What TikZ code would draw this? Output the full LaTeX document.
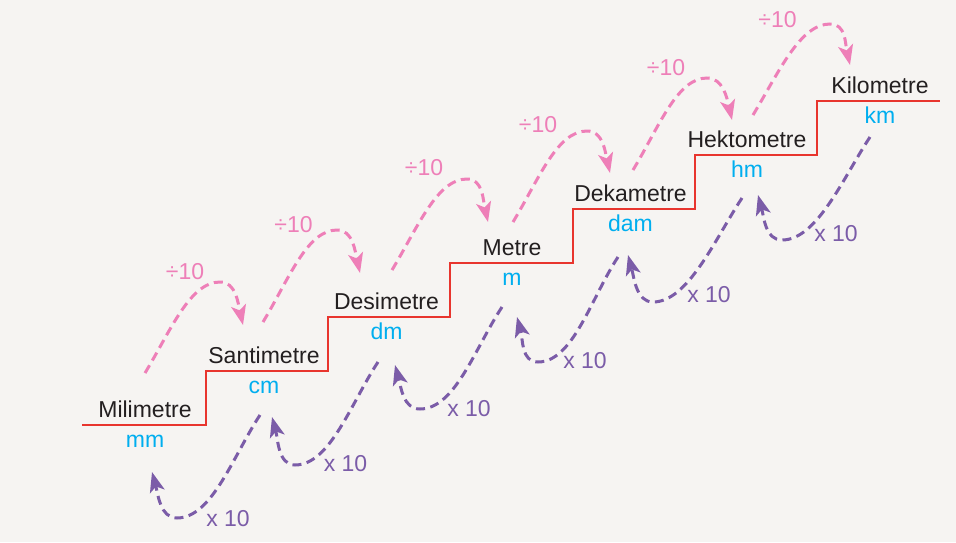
\documentclass[tikz,border=0pt]{standalone}
\usepackage{fontspec}
\setmainfont{Liberation Sans}
\usetikzlibrary{arrows.meta}
\definecolor{bgc}{HTML}{F6F4F2}
\definecolor{stairred}{HTML}{E8352E}
\definecolor{pinkc}{HTML}{EE7FB8}
\definecolor{purplec}{HTML}{7B5CA8}
\definecolor{cyanc}{HTML}{00AEEF}
\definecolor{textc}{HTML}{231F20}
\begin{document}
\begin{tikzpicture}[x=1pt,y=-1pt,
  every node/.style={inner sep=0pt, font=\fontsize{23}{27}\selectfont},
  unitname/.style={anchor=base, text=textc},
  unitabbr/.style={anchor=base, text=cyanc},
  divlbl/.style={text=pinkc},
  mullbl/.style={text=purplec},
  stair/.style={draw=stairred, line width=2pt},
  divarrow/.style={draw=pinkc, line width=3pt, dash pattern=on 9pt off 5.5pt,
    -{Stealth[length=20pt,width=15pt,inset=5pt]}},
  mularrow/.style={draw=purplec, line width=3pt, dash pattern=on 9pt off 5.5pt,
    -{Stealth[length=20pt,width=15pt,inset=5pt]}}
]
\fill[bgc] (0,0) rectangle (956,542);
\useasboundingbox (0,0) rectangle (956,542);

% staircase
\draw[stair] (82,425) -| (206,371) -| (328,317) -| (450,263) -| (573,209) -| (695,155) -| (817,101) -- (940,101);

% unit names
\node[unitname] (n1) at (145,417) {Milimetre};
\node[unitname] (n2) at (264,363) {Santimetre};
\node[unitname] (n3) at (386.5,309) {Desimetre};
\node[unitname] (n4) at (512,255) {Metre};
\node[unitname] (n5) at (630.5,201) {Dekametre};
\node[unitname] (n6) at (747,147) {Hektometre};
\node[unitname] (n7) at (880,93) {Kilometre};

% abbreviations
\node[unitabbr] (a1) at (145,447.5) {mm};
\node[unitabbr] (a2) at (264,393.5) {cm};
\node[unitabbr] (a3) at (386.5,339.5) {dm};
\node[unitabbr] (a4) at (512,285.5) {m};
\node[unitabbr] (a5) at (630.5,231.5) {dam};
\node[unitabbr] (a6) at (747,177.5) {hm};
\node[unitabbr] (a7) at (880,123.5) {km};

% pink (divide) arrows
\coordinate (ps1) at (145,373); \coordinate (pp1) at (220,282); \coordinate (pt1) at (243,325);
\coordinate (ps2) at (263,322); \coordinate (pp2) at (337,230); \coordinate (pt2) at (360,273);
\coordinate (ps3) at (392,270); \coordinate (pp3) at (467,179); \coordinate (pt3) at (488,222);
\coordinate (ps4) at (513,222); \coordinate (pp4) at (587,131); \coordinate (pt4) at (610,173);
\coordinate (ps5) at (633,170); \coordinate (pp5) at (707,78);  \coordinate (pt5) at (732,120);
\coordinate (ps6) at (753,115); \coordinate (pp6) at (830,24);  \coordinate (pt6) at (850,65);
\foreach \i in {1,...,6}{
  \draw[divarrow] (ps\i) .. controls +(26,-43) and +(-30,0) .. (pp\i)
    .. controls +(16,0) and +(-5,-22) .. (pt\i);
}
\node[divlbl] (d1) at (185,272) {÷10};
\node[divlbl] (d2) at (293.5,225) {÷10};
\node[divlbl] (d3) at (424,168) {÷10};
\node[divlbl] (d4) at (538,125) {÷10};
\node[divlbl] (d5) at (666,68) {÷10};
\node[divlbl] (d6) at (777.5,19.5) {÷10};

% purple (multiply) arrows
\coordinate (ms1) at (260,415); \coordinate (mq1) at (177,518); \coordinate (mt1) at (152,472);
\coordinate (ms2) at (378,362); \coordinate (mq2) at (295,465); \coordinate (mt2) at (272,417);
\coordinate (ms3) at (502,307); \coordinate (mq3) at (420,409); \coordinate (mt3) at (395,365);
\coordinate (ms4) at (618,257); \coordinate (mq4) at (538,362); \coordinate (mt4) at (517,317);
\coordinate (ms5) at (742,198); \coordinate (mq5) at (653,302); \coordinate (mt5) at (628,255);
\coordinate (ms6) at (870,137); \coordinate (mq6) at (782,240); \coordinate (mt6) at (758,195);
\foreach \i in {1,...,6}{
  \draw[mularrow] (ms\i) .. controls +(-27,41) and +(35,0) .. (mq\i)
    .. controls +(-17,0) and +(6,22) .. (mt\i);
}
\node[mullbl] (x1) at (228,518.5) {x 10};
\node[mullbl] (x2) at (345.5,463.5) {x 10};
\node[mullbl] (x3) at (469,408.5) {x 10};
\node[mullbl] (x4) at (585,360.5) {x 10};
\node[mullbl] (x5) at (709,295) {x 10};
\node[mullbl] (x6) at (836,233.5) {x 10};
\end{tikzpicture}
\end{document}
